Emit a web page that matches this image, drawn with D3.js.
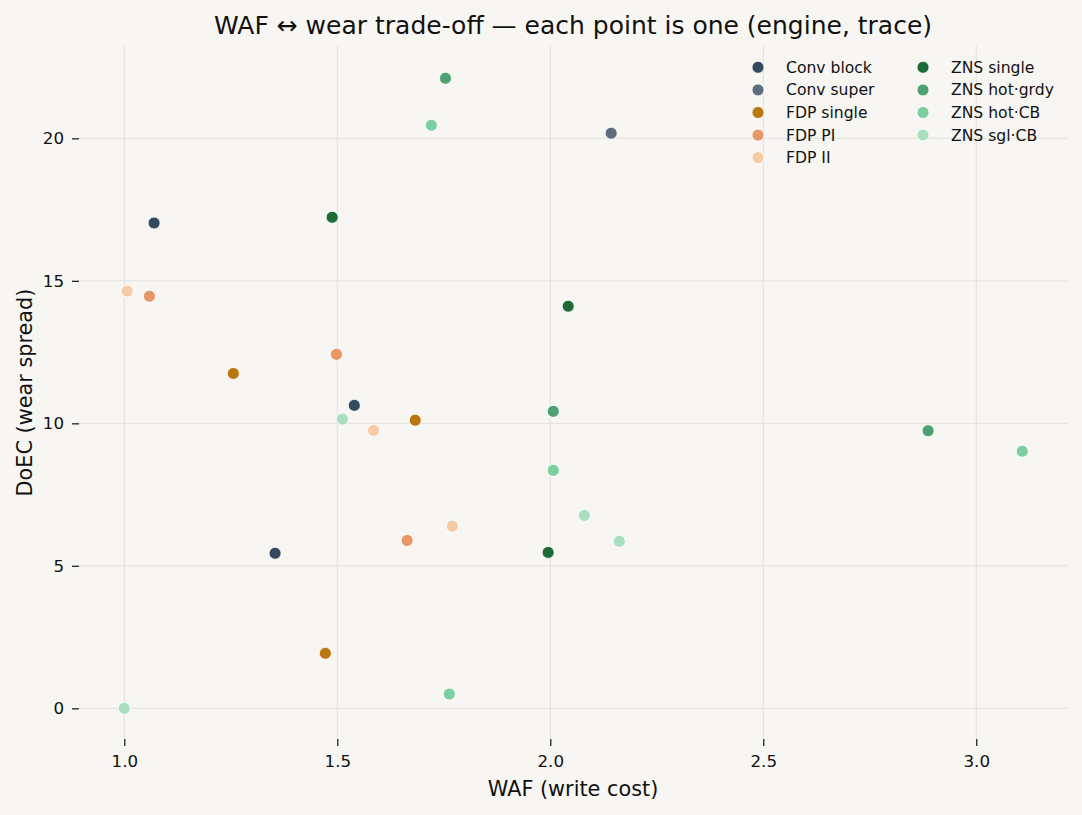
<!DOCTYPE html>
<html>
<head>
<meta charset="utf-8">
<script src="https://cdn.jsdelivr.net/npm/d3@7"></script>
<style>
  html, body { margin: 0; padding: 0; background: #f7f6f2; }
  svg { display: block; font-family: "DejaVu Sans", sans-serif; }
</style>
</head>
<body>
<div id="chart"></div>
<script>
// engines, in legend order
const engines = ['Conv block', 'Conv super', 'FDP single', 'FDP PI', 'FDP II',
                 'ZNS single', 'ZNS hot·grdy', 'ZNS hot·CB', 'ZNS sgl·CB'];
const engineColors = ['#34495e', '#5d6d7e', '#b9770e', '#e59866', '#f5cba7',
                      '#1e6b37', '#4fa173', '#7dcea0', '#a9dfbf'];

// WAF per engine (one entry per trace)
const wafValues = [
    [1.070, 1.540, 1.354],
    [2.143],
    [1.256, 1.683, 1.472],
    [1.059, 1.498, 1.664],
    [1.007, 1.585, 1.770],
    [1.488, 2.042, 1.995],
    [1.754, 2.007, 2.887],
    [1.721, 2.007, 3.108, 1.763],
    [1.000, 1.512, 2.080, 2.162]
];
// DoEC per engine
const doecValues = [
    [17.03, 10.63, 5.44],
    [20.18],
    [11.75, 10.11, 1.93],
    [14.46, 12.42, 5.89],
    [14.64, 9.75, 6.39],
    [17.23, 14.11, 5.47],
    [22.11, 10.42, 9.74],
    [20.46, 8.35, 9.02, 0.50],
    [0.00, 10.15, 6.77, 5.86]
];

const xTicks = [1.0, 1.5, 2.0, 2.5, 3.0];
const yTicks = [0, 5, 10, 15, 20];

const width = 1082, height = 815;
const plot = { left: 79, right: 1067, top: 46, bottom: 739 };

const svg = d3.select('#chart').append('svg')
    .attr('width', width)
    .attr('height', height);

svg.append('rect')
    .attr('width', width).attr('height', height)
    .attr('fill', '#f7f6f2');

const x = d3.scaleLinear().domain([0.8937, 3.213]).range([plot.left, plot.right]);
const y = d3.scaleLinear().domain([-1.077, 23.24]).range([plot.bottom, plot.top]);

// grid
const grid = svg.append('g').attr('stroke', '#e2e0db').attr('stroke-width', 1);
grid.selectAll('.gx').data(xTicks).enter().append('line')
    .attr('x1', d => x(d)).attr('x2', d => x(d))
    .attr('y1', plot.top).attr('y2', plot.bottom);
grid.selectAll('.gy').data(yTicks).enter().append('line')
    .attr('x1', plot.left).attr('x2', plot.right)
    .attr('y1', d => y(d)).attr('y2', d => y(d));

// axes
const xAxis = svg.append('g')
    .attr('transform', `translate(0,${plot.bottom})`)
    .call(d3.axisBottom(x).tickValues(xTicks).tickFormat(d3.format('.1f')).tickSize(7).tickSizeOuter(0).tickPadding(9));
const yAxis = svg.append('g')
    .attr('transform', `translate(${plot.left},0)`)
    .call(d3.axisLeft(y).tickValues(yTicks).tickFormat(d3.format('d')).tickSize(7).tickSizeOuter(0).tickPadding(8));

[xAxis, yAxis].forEach(a => {
    a.select('.domain').remove();
    a.selectAll('.tick line').attr('stroke', '#222').attr('stroke-width', 1.3);
    a.selectAll('.tick text')
        .attr('fill', '#111')
        .style('font-size', '16.7px')
        .style('font-family', '"DejaVu Sans", sans-serif');
});

// points, drawn series by series like the legend
engines.forEach((eng, i) => {
    const pts = wafValues[i].map((w, j) => ({ waf: w, doec: doecValues[i][j] }));
    svg.append('g').selectAll('circle')
        .data(pts)
        .enter()
        .append('circle')
        .attr('cx', d => x(d.waf))
        .attr('cy', d => y(d.doec))
        .attr('r', 6)
        .attr('fill', engineColors[i])
        .attr('stroke', '#ffffff')
        .attr('stroke-width', 0.8);
});

// title + axis labels
svg.append('text')
    .attr('x', (plot.left + plot.right) / 2)
    .attr('y', 34)
    .attr('text-anchor', 'middle')
    .style('font-size', '25px')
    .attr('fill', '#111')
    .text('WAF ↔ wear trade-off — each point is one (engine, trace)');

svg.append('text')
    .attr('x', (plot.left + plot.right) / 2)
    .attr('y', 796)
    .attr('text-anchor', 'middle')
    .style('font-size', '20.8px')
    .attr('fill', '#111')
    .text('WAF (write cost)');

svg.append('text')
    .attr('transform', `translate(32,${(plot.top + plot.bottom) / 2}) rotate(-90)`)
    .attr('text-anchor', 'middle')
    .style('font-size', '20.8px')
    .attr('fill', '#111')
    .text('DoEC (wear spread)');

// legend: two columns, five rows
const legend = svg.append('g');
engines.forEach((eng, i) => {
    const col = i < 5 ? 0 : 1;
    const row = i < 5 ? i : i - 5;
    const item = legend.append('g')
        .attr('transform', `translate(${col === 0 ? 758 : 923},${67.3 + row * 22.6})`);
    item.append('circle')
        .attr('r', 6)
        .attr('fill', engineColors[i])
        .attr('stroke', '#ffffff')
        .attr('stroke-width', 0.8);
    item.append('text')
        .attr('x', 28)
        .attr('y', 5.5)
        .style('font-size', '15.6px')
        .attr('fill', '#111')
        .text(eng);
});
</script>
</body>
</html>
